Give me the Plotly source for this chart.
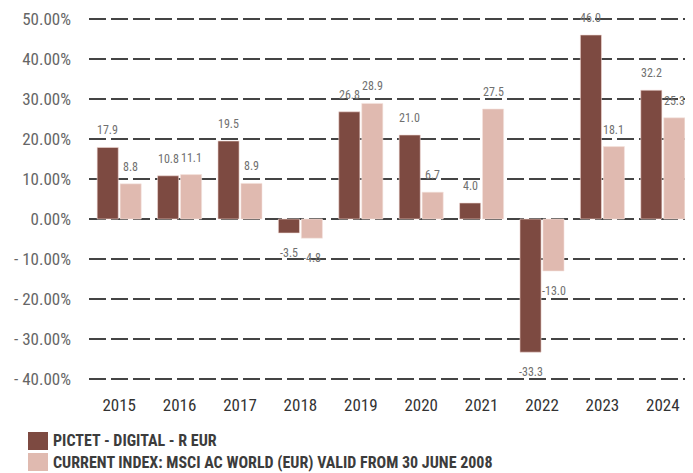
import plotly.graph_objects as go

years = ["2015", "2016", "2017", "2018", "2019", "2020", "2021", "2022", "2023", "2024"]
fund_name = "PICTET - DIGITAL - R EUR"
index_name = "CURRENT INDEX: MSCI AC WORLD (EUR) VALID FROM 30 JUNE 2008"
fund_values = [17.9, 10.8, 19.5, -3.5, 26.8, 21.0, 4.0, -33.3, 46.0, 32.2]
index_values = [8.8, 11.1, 8.9, -4.8, 28.9, 6.7, 27.5, -13.0, 18.1, 25.3]
y_tick_values = [50, 40, 30, 20, 10, 0, -10, -20, -30, -40]
y_tick_labels = ["50.00%", "40.00%", "30.00%", "20.00%", "10.00%", "0.00%",
                 "- 10.00%", "- 20.00%", "- 30.00%", "- 40.00%"]

FONT = "Roboto Condensed, Roboto, sans-serif"
DARK = "#7d4a41"
LIGHT = "#e0bab0"

OFF = 8  # default page margin
W, H = 693 - OFF, 473 - OFF
ML, MR, MT, MB = 81, 0, 0, 85
PW, PH = W - ML - MR, H - MT - MB


def px_x(x):
    return (x - OFF - ML) / PW


def px_y(y):
    return (H - MB - (y - OFF)) / PH


fig = go.Figure()
fig.add_trace(go.Bar(x=years, y=fund_values, name=fund_name,
                     marker=dict(color=DARK, line=dict(color="#f3dcd6", width=0.6)),
                     showlegend=False))
fig.add_trace(go.Bar(x=years, y=index_values, name=index_name,
                     marker=dict(color=LIGHT, line=dict(color="#f5e4df", width=0.6)),
                     showlegend=False))

annotations = []
for vals, shift in ((fund_values, -11.5), (index_values, 11.5)):
    for i, v in enumerate(vals):
        annotations.append(dict(
            x=i, y=v, xref="x", yref="y", text=f"{v:.1f}", showarrow=False,
            xshift=shift, yshift=17 if v >= 0 else -20,
            font=dict(family=FONT, size=12, color="#707070")))

# legend
shapes = []
for i, (name, col) in enumerate(((fund_name, DARK), (index_name, LIGHT))):
    top = 432 + i * 21
    shapes.append(dict(type="rect", xref="paper", yref="paper",
                       x0=px_x(28), x1=px_x(48), y0=px_y(top + 18), y1=px_y(top),
                       fillcolor=col, line=dict(width=0)))
    annotations.append(dict(x=px_x(51), y=px_y(top + 9), xref="paper", yref="paper",
                            text=f"<b>{name}</b>", showarrow=False, xanchor="left",
                            yanchor="middle",
                            font=dict(family=FONT, size=16, color="#3c3c3c")))

fig.update_layout(
    width=W, height=H,
    margin=dict(l=ML, r=MR, t=MT, b=MB),
    paper_bgcolor="white", plot_bgcolor="white",
    barmode="group", bargap=0.24, bargroupgap=0.08,
    annotations=annotations, shapes=shapes,
    xaxis=dict(type="category", range=[-0.5, 9.5], showgrid=False, zeroline=False,
               showline=False, ticks="",
               tickfont=dict(family=FONT, size=17, color="#333333"),
               ticklabelstandoff=5),
    yaxis=dict(range=[52.75, 52.75 - PH / 4.0][::-1], tickvals=y_tick_values,
               ticktext=y_tick_labels,
               showgrid=True, gridcolor="#444444", gridwidth=2, griddash="17px,5px",
               zeroline=False, showline=False, ticks="",
               tickfont=dict(family=FONT, size=17, color="#666666"),
               ticklabelstandoff=17),
    font=dict(family=FONT),
)

fig.write_html("out.html")
